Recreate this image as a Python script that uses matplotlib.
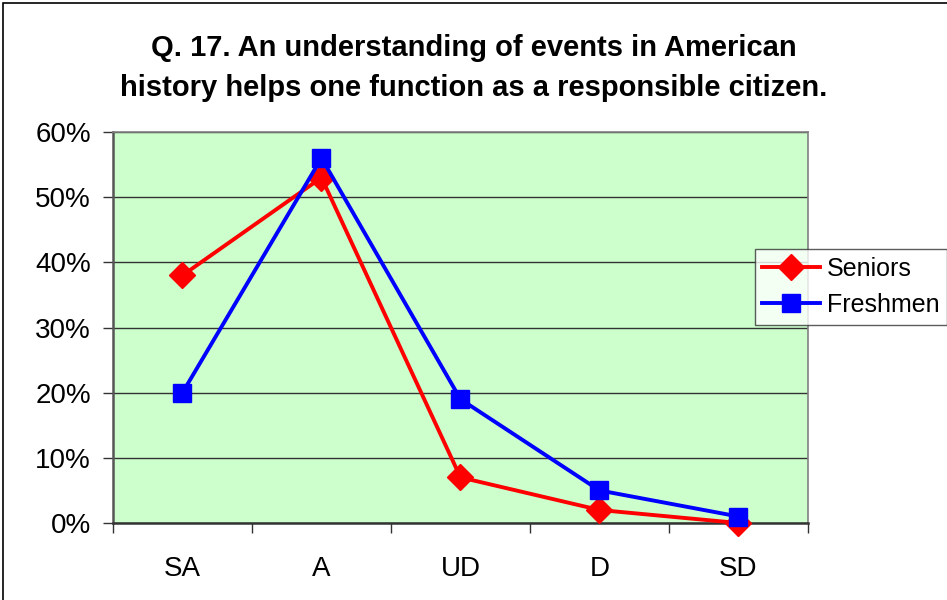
import matplotlib.pyplot as plt
from matplotlib.patches import Rectangle
from matplotlib.ticker import FixedLocator, NullFormatter, FuncFormatter

CATEGORIES = ["SA", "A", "UD", "D", "SD"]
SENIORS = [38, 53, 7, 2, 0]
FRESHMEN = [20, 56, 19, 5, 1]
TITLE = "Q. 17. An understanding of events in American\nhistory helps one function as a responsible citizen."

plt.rcParams["font.family"] = ["Liberation Sans", "DejaVu Sans"]


def main():
    fig = plt.figure(figsize=(9.47, 6), dpi=100)
    fig.patches.append(Rectangle((3 / 947, -0.1), 1.2, 1.1 - 3 / 600, transform=fig.transFigure,
                                 fill=False, edgecolor="black", linewidth=1.2))
    ax = fig.add_axes([0.1193, 0.1283, 0.7339, 0.6517])
    ax.set_facecolor("#CCFFCC")

    x = list(range(len(CATEGORIES)))
    ax.plot(x, SENIORS, color="#FF0000", linewidth=2.8, marker="D", markersize=13,
            label="Seniors", clip_on=False, zorder=3)
    ax.plot(x, FRESHMEN, color="#0000FF", linewidth=2.8, marker="s", markersize=13,
            label="Freshmen", clip_on=False, zorder=4)

    ax.set_xlim(-0.5, len(CATEGORIES) - 0.5)
    ax.set_ylim(0, 60)
    ax.set_yticks(range(0, 61, 10))
    ax.yaxis.set_major_formatter(FuncFormatter(lambda v, p: f"{v:.0f}%"))
    ax.yaxis.grid(True, color="#333333", linewidth=1.0)
    ax.set_axisbelow(True)

    ax.set_xticks(x)
    ax.set_xticklabels(CATEGORIES)
    ax.xaxis.set_minor_locator(FixedLocator([i - 0.5 for i in range(len(CATEGORIES) + 1)]))
    ax.xaxis.set_minor_formatter(NullFormatter())
    ax.tick_params(axis="x", which="major", length=0, pad=24, labelsize=20)
    ax.tick_params(axis="x", which="minor", length=7, width=1, color="#333333", direction="out")
    ax.tick_params(axis="y", length=7, width=1, color="#333333", direction="out", labelsize=20, pad=9)

    for side in ("top", "right"):
        ax.spines[side].set_color("#808080")
        ax.spines[side].set_linewidth(1.2)
    ax.spines["left"].set_color("#555555")
    ax.spines["left"].set_linewidth(1.8)
    ax.spines["bottom"].set_color("#333333")
    ax.spines["bottom"].set_linewidth(1.8)

    fig.text(0.5, 0.887, TITLE, ha="center", va="center", fontsize=21, fontweight="bold",
             linespacing=1.55)

    leg = fig.legend(loc="upper left", bbox_to_anchor=(0.797, 0.585), fontsize=18,
                     frameon=True, fancybox=False, borderpad=0.3, handlelength=2.3,
                     handletextpad=0.3, labelspacing=0.5, borderaxespad=0)
    leg.get_frame().set_edgecolor("#333333")
    leg.get_frame().set_linewidth(1.0)

    fig.savefig("out.png", dpi=100)
    plt.close(fig)


if __name__ == "__main__":
    main()
